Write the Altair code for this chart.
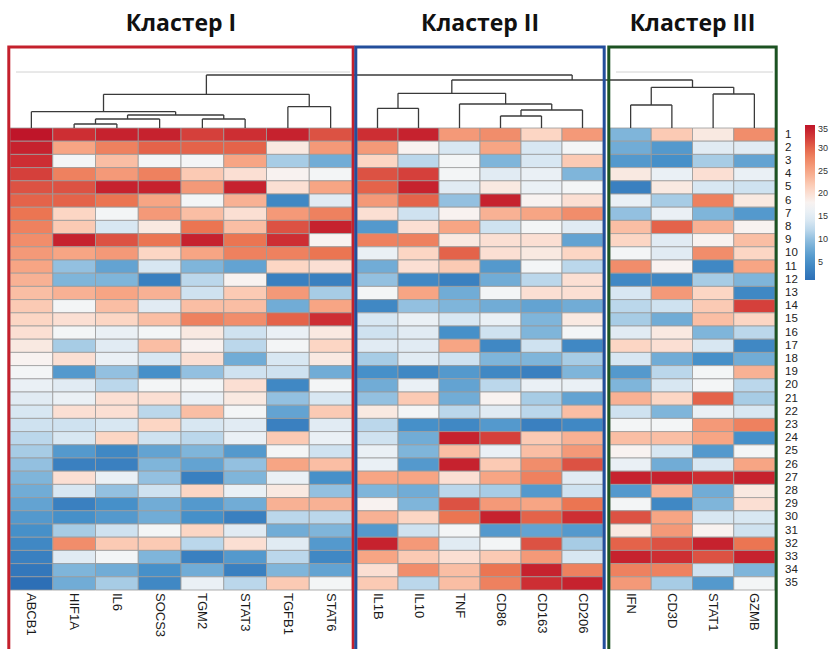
import altair as alt
import pandas as pd

# ---------------------------------------------------------------------------
# Expression scores per gene, samples 1..35 from top to bottom
# ---------------------------------------------------------------------------
ABCB1 = [35, 34, 33, 32, 31, 30, 29, 28, 27, 26, 25, 24, 23, 22, 21, 20, 19, 18,
         17, 16, 15, 14, 13, 12, 11, 10, 9, 8, 7, 6, 5, 4, 3, 2, 1]
HIF1A = [33, 25, 17, 28, 31, 30, 21, 22, 34, 25, 10, 9, 24, 17, 20, 17, 11, 20,
         6, 15, 16, 20, 13, 14, 6, 3, 20, 14, 3, 5, 11, 27, 15, 9, 8]
IL6 = [34, 28, 23, 26, 34, 29, 17, 14, 31, 26, 7, 9, 25, 23, 21, 16, 15, 16,
       10, 12, 20, 20, 14, 21, 4, 3, 16, 10, 5, 6, 13, 22, 17, 8, 11]
SOCS3 = [34, 30, 17, 28, 34, 25, 26, 19, 29, 21, 14, 3, 24, 15, 23, 17, 23, 14,
         5, 17, 20, 12, 21, 13, 7, 9, 10, 13, 8, 8, 17, 22, 9, 5, 4]
TGM2 = [32, 30, 17, 22, 26, 17, 23, 29, 34, 25, 9, 12, 13, 23, 28, 19, 18, 20,
        10, 17, 16, 23, 14, 12, 9, 7, 3, 21, 6, 5, 21, 12, 3, 8, 16]
STAT3 = [33, 30, 25, 20, 34, 24, 20, 23, 29, 28, 7, 18, 22, 23, 27, 13, 12, 8,
         13, 20, 19, 17, 15, 16, 6, 10, 9, 16, 8, 3, 15, 20, 6, 3, 12]
TGFB1 = [34, 19, 11, 18, 20, 4, 26, 31, 33, 28, 21, 3, 26, 8, 30, 16, 17, 14,
         13, 4, 10, 7, 3, 22, 17, 25, 16, 19, 24, 12, 8, 15, 12, 9, 22]
STAT6 = [31, 26, 8, 17, 25, 15, 28, 34, 18, 29, 20, 3, 11, 25, 33, 19, 21, 19,
         8, 17, 14, 22, 15, 16, 13, 23, 5, 10, 24, 12, 9, 6, 4, 7, 17]
IL1B = [33, 26, 21, 31, 30, 26, 20, 6, 28, 16, 8, 10, 17, 4, 14, 13, 15, 11,
        5, 8, 10, 19, 12, 13, 16, 16, 25, 9, 18, 24, 6, 34, 25, 20, 22]
IL10 = [34, 18, 12, 32, 34, 30, 13, 20, 28, 21, 20, 4, 25, 10, 16, 15, 15, 15,
        4, 16, 22, 17, 5, 8, 9, 6, 25, 8, 9, 21, 13, 26, 22, 27, 12]
TNF = [26, 14, 17, 17, 15, 10, 18, 25, 19, 30, 22, 3, 8, 9, 14, 5, 25, 13,
       6, 7, 8, 12, 4, 34, 23, 34, 20, 12, 31, 29, 17, 15, 20, 23, 23]
CD86 = [27, 25, 9, 15, 19, 34, 24, 13, 20, 20, 6, 8, 17, 8, 16, 13, 4, 9,
        4, 12, 18, 15, 6, 32, 16, 22, 25, 11, 26, 34, 6, 17, 22, 29, 28]
CD163 = [21, 14, 14, 16, 16, 18, 25, 17, 20, 19, 17, 12, 20, 7, 9, 9, 13, 9,
         3, 16, 11, 12, 3, 22, 23, 27, 28, 6, 25, 30, 7, 31, 26, 34, 33]
CD206 = [26, 17, 22, 9, 17, 20, 27, 15, 7, 21, 12, 20, 20, 8, 19, 17, 4, 11,
         9, 16, 7, 23, 4, 24, 26, 31, 15, 13, 29, 33, 6, 11, 14, 28, 34]
IFN = [9, 8, 6, 19, 3, 16, 10, 23, 21, 17, 27, 4, 14, 12, 11, 15, 21, 14,
       6, 9, 24, 13, 17, 23, 18, 16, 34, 6, 17, 31, 19, 30, 34, 28, 26]
CD3D = [22, 6, 5, 16, 19, 11, 16, 30, 15, 15, 18, 4, 26, 13, 8, 19, 20, 8,
        12, 14, 21, 9, 17, 23, 14, 8, 34, 24, 4, 25, 26, 31, 33, 28, 11]
STAT1 = [19, 15, 11, 20, 14, 28, 9, 24, 18, 27, 4, 11, 21, 22, 23, 9, 14, 5,
         17, 17, 30, 16, 26, 25, 6, 14, 33, 8, 9, 14, 18, 34, 31, 13, 6]
GZMB = [27, 15, 7, 16, 13, 19, 6, 18, 23, 21, 25, 9, 4, 32, 21, 12, 4, 8,
        24, 12, 11, 14, 28, 5, 17, 25, 34, 19, 20, 14, 13, 29, 34, 9, 17]

VALUES = {
    "ABCB1": ABCB1, "HIF1A": HIF1A, "IL6": IL6, "SOCS3": SOCS3, "TGM2": TGM2,
    "STAT3": STAT3, "TGFB1": TGFB1, "STAT6": STAT6, "IL1B": IL1B, "IL10": IL10,
    "TNF": TNF, "CD86": CD86, "CD163": CD163, "CD206": CD206, "IFN": IFN,
    "CD3D": CD3D, "STAT1": STAT1, "GZMB": GZMB,
}

CLUSTER_NAMES = ["Кластер I", "Кластер II", "Кластер III"]
CLUSTER_GENES = [
    ["ABCB1", "HIF1A", "IL6", "SOCS3", "TGM2", "STAT3", "TGFB1", "STAT6"],
    ["IL1B", "IL10", "TNF", "CD86", "CD163", "CD206"],
    ["IFN", "CD3D", "STAT1", "GZMB"],
]
CLUSTER_COLORS = ["#c4202c", "#234e9b", "#1c5222"]
SAMPLE_LABELS = [str(i) for i in range(1, 36)]

# Colour ramp: blue (low) through white to red (high)
COLOR_STOPS = [1, 5, 9, 13, 17.5, 21, 25, 29, 33, 35]
COLOR_RANGE = ["#2d6fb6", "#4690c9", "#7fb5da", "#cfe2f0", "#f7f7f7",
               "#fcd6c4", "#f7a584", "#eb7552", "#cd2e33", "#bf1529"]
LEGEND_VALUES = [5, 10, 15, 20, 25, 30, 35]

# Column dendrogram: (node, left child, right child, merge height)
DENDRO_NODES = ["a1", "a2", "a3", "a4", "a5", "a6", "a7",
                "b1", "b2", "b3", "b4", "b5",
                "c1", "c2", "c3", "r1", "r0"]
DENDRO_LEFT = ["HIF1A", "a1", "TGM2", "a2", "ABCB1", "TGFB1", "a5",
               "CD86", "b1", "TNF", "IL1B", "b4",
               "IFN", "STAT1", "c1", "b5", "a7"]
DENDRO_RIGHT = ["IL6", "SOCS3", "STAT3", "a3", "a4", "STAT6", "a6",
                "CD163", "CD206", "b2", "IL10", "b3",
                "CD3D", "GZMB", "c2", "c3", "r1"]
DENDRO_HEIGHT = [4.0, 9.0, 9.0, 13.0, 16.3, 21.3, 33.7,
                 12.0, 18.0, 24.0, 19.7, 34.7,
                 23.0, 34.0, 40.7, 48.0, 53.0]
DENDRO_TOP = 56.0

# ---------------------------------------------------------------------------
# Layout (pixel sizes of the blocks)
# ---------------------------------------------------------------------------
N_ROWS = len(ABCB1)
ROW_PX = 13.2                      # height of one sample row
CELL_PX = [42.75, 41.0, 41.25]     # column width inside each cluster block
GAP_PX = [5.0, 7.0]                # space between neighbouring blocks
BOX_PAD_PX = 1.2
LEFT_PX = 10
TOP_PX = 128
BOX_TOP = -81 / ROW_PX
BOX_BOTTOM = N_ROWS + 62 / ROW_PX
TITLE_Y = -97 / ROW_PX
LABEL_Y = N_ROWS + 3 / ROW_PX

# x positions in pixels from the left edge of the heatmap
left = {}
width = {}
cursor = 0.0
for ci, genes in enumerate(CLUSTER_GENES):
    if ci > 0:
        cursor += GAP_PX[ci - 1]
    for g in genes:
        left[g] = cursor
        width[g] = CELL_PX[ci]
        cursor += CELL_PX[ci]
X_MAX = cursor
PLOT_W = X_MAX
PLOT_H = N_ROWS * ROW_PX

cells = pd.DataFrame([
    {"gene": g, "sample": r + 1, "value": VALUES[g][r],
     "x0": left[g], "x1": left[g] + width[g], "y0": r, "y1": r + 1}
    for genes in CLUSTER_GENES for g in genes for r in range(N_ROWS)
])

boxes = pd.DataFrame([
    {"name": name,
     "x0": left[genes[0]] - BOX_PAD_PX,
     "x1": left[genes[-1]] + width[genes[-1]] + BOX_PAD_PX,
     "xc": (left[genes[0]] + left[genes[-1]] + width[genes[-1]]) / 2,
     "y0": BOX_TOP, "y1": BOX_BOTTOM, "ty": TITLE_Y}
    for name, genes in zip(CLUSTER_NAMES, CLUSTER_GENES)
])

gene_labels = pd.DataFrame([
    {"gene": g, "x": left[g] + width[g] / 2, "y": LABEL_Y}
    for genes in CLUSTER_GENES for g in genes
])

sample_labels = pd.DataFrame({
    "label": SAMPLE_LABELS,
    "x": [X_MAX] * N_ROWS,
    "y": [i + 0.5 for i in range(N_ROWS)],
})

# Dendrogram segments (heights converted to row units above the heatmap)
node_x = {g: left[g] + width[g] / 2 for g in left}
node_h = {g: 0.0 for g in left}
segs = []
for node, lc, rc, h in zip(DENDRO_NODES, DENDRO_LEFT, DENDRO_RIGHT, DENDRO_HEIGHT):
    xl, xr = node_x[lc], node_x[rc]
    segs.append({"x0": xl, "x1": xr, "y0": -h / ROW_PX, "y1": -h / ROW_PX})
    segs.append({"x0": xl, "x1": xl, "y0": -node_h[lc] / ROW_PX, "y1": -h / ROW_PX})
    segs.append({"x0": xr, "x1": xr, "y0": -node_h[rc] / ROW_PX, "y1": -h / ROW_PX})
    node_x[node] = (xl + xr) / 2
    node_h[node] = h
dendro = pd.DataFrame(segs)

faint = pd.DataFrame([
    {"x0": left[genes[0]] + 6, "x1": left[genes[-1]] + width[genes[-1]] - 2,
     "y": -DENDRO_TOP / ROW_PX}
    for ci, genes in enumerate(CLUSTER_GENES) if ci != 1
])

# ---------------------------------------------------------------------------
# Chart
# ---------------------------------------------------------------------------
xs = alt.Scale(domain=[0, X_MAX], nice=False, zero=False)
ys = alt.Scale(domain=[0, N_ROWS], nice=False, zero=False, reverse=True)


def X(field):
    return alt.X(field, type="quantitative", scale=xs, axis=None)


def Y(field):
    return alt.Y(field, type="quantitative", scale=ys, axis=None)


heat = alt.Chart(cells).mark_rect(stroke="#9a9a9a", strokeWidth=0.8).encode(
    x=X("x0"), x2="x1", y=Y("y0"), y2="y1",
    color=alt.Color(
        "value:Q",
        title=None,
        scale=alt.Scale(domain=COLOR_STOPS, range=COLOR_RANGE, interpolate="rgb"),
        legend=alt.Legend(
            orient="none", legendX=PLOT_W + 30, legendY=-3, direction="vertical",
            gradientLength=155, gradientThickness=10, gradientStrokeWidth=0,
            values=LEGEND_VALUES, labelFontSize=9,
            labelColor="#333333", labelFont="Liberation Sans", labelOffset=3,
        ),
    ),
)

box_layer = alt.Chart(boxes).mark_rect(fillOpacity=0, strokeWidth=3).encode(
    x=X("x0"), x2="x1", y=Y("y0"), y2="y1",
    stroke=alt.Stroke("name:N", legend=None,
                      scale=alt.Scale(domain=CLUSTER_NAMES, range=CLUSTER_COLORS)),
)

titles = alt.Chart(boxes).mark_text(
    font="Open Sans", fontSize=23, fontWeight="bold", color="#111111",
    baseline="alphabetic", align="center",
).encode(x=X("xc"), y=Y("ty"), text="name:N")

faint_layer = alt.Chart(faint).mark_rule(color="#d2d2d2", strokeWidth=1).encode(
    x=X("x0"), x2="x1", y=Y("y"),
)

dendro_layer = alt.Chart(dendro).mark_rule(color="#3a3a3a", strokeWidth=1.3).encode(
    x=X("x0"), x2="x1", y=Y("y0"), y2="y1",
)

gene_text = alt.Chart(gene_labels).mark_text(
    angle=90, align="left", baseline="middle", font="Liberation Sans",
    fontSize=13, color="#1a1a1a",
).encode(x=X("x"), y=Y("y"), text="gene:N")

sample_text = alt.Chart(sample_labels).mark_text(
    align="left", baseline="middle", dx=10, font="Liberation Sans",
    fontSize=11.5, color="#222222",
).encode(x=X("x"), y=Y("y"), text="label:N")

chart = alt.layer(
    heat, faint_layer, dendro_layer, box_layer, titles, gene_text, sample_text
).properties(
    width=PLOT_W,
    height=PLOT_H,
    autosize=alt.AutoSizeParams(type="none"),
    padding={"left": LEFT_PX, "top": TOP_PX, "right": 834 - LEFT_PX - PLOT_W,
             "bottom": 649 - TOP_PX - PLOT_H},
    background="white",
).configure_view(strokeWidth=0)

chart.save("out.html", embed_options={"renderer": "svg", "actions": False})
